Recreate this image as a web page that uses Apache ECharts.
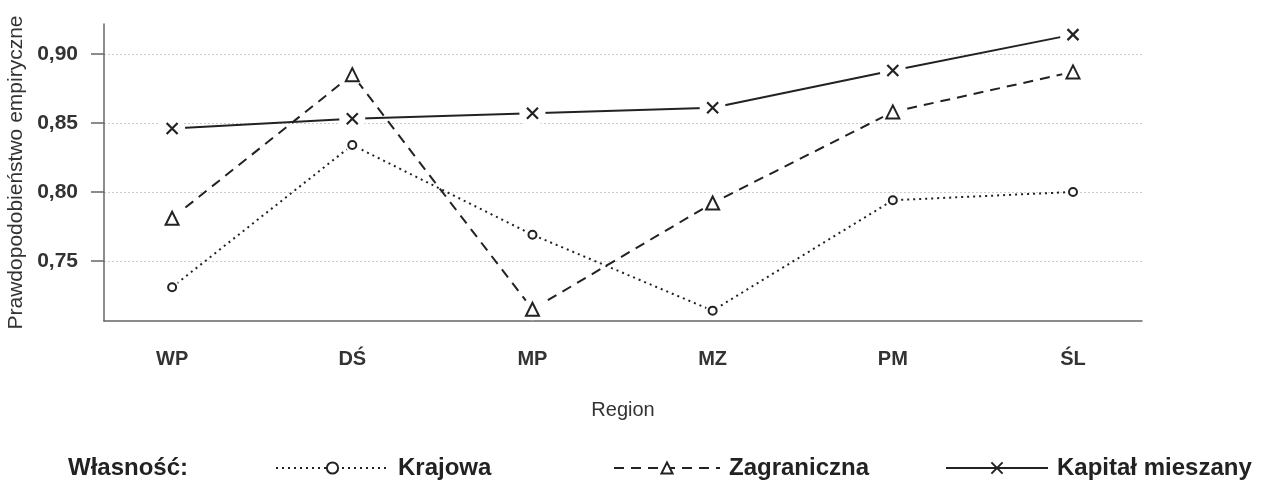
<!DOCTYPE html>
<html>
<head>
<meta charset="utf-8">
<script src="https://cdn.jsdelivr.net/npm/echarts@6/dist/echarts.min.js"></script>
<style>
html,body{margin:0;padding:0;background:#fff;}
#chart{width:1266px;height:492px;}
</style>
</head>
<body>
<div id="chart"></div>
<script>
const categories = ['WP', 'DŚ', 'MP', 'MZ', 'PM', 'ŚL'];
const krajowa = [0.731, 0.834, 0.769, 0.714, 0.794, 0.800];
const zagraniczna = [0.781, 0.885, 0.715, 0.792, 0.858, 0.887];
const mieszany = [0.846, 0.853, 0.857, 0.861, 0.888, 0.914];
const yTicks = [0.75, 0.80, 0.85, 0.90];
const seriesNames = ['Krajowa', 'Zagraniczna', 'Kapitał mieszany'];
const legendTitle = 'Własność:';
const xTitle = 'Region';
const yTitle = 'Prawdopodobieństwo empiryczne';

const INK = '#222';
const FONT = '"Liberation Sans", Arial, sans-serif';
const xSymbol = 'path://M0,0L10,10M10,0L0,10';

const pts = arr => arr.map((v, i) => [i, v]);

const defs = [
  {name: seriesNames[0], data: krajowa, symbol: 'emptyCircle', size: 8, mask: 14,
   line: {type: [2, 4], width: 2}, item: {color: INK, borderColor: INK, borderWidth: 1.8, opacity: 1}},
  {name: seriesNames[1], data: zagraniczna, symbol: 'emptyTriangle', size: 13, mask: 22,
   line: {type: [10, 7], width: 2}, item: {color: INK, borderColor: INK, borderWidth: 2, opacity: 1}},
  {name: seriesNames[2], data: mieszany, symbol: xSymbol, size: 11, mask: 26,
   line: {type: 'solid', width: 2}, item: {color: 'rgba(0,0,0,0)', borderColor: INK, borderWidth: 2.2, opacity: 1}}
];

const series = [];
defs.forEach(d => {
  series.push({
    name: d.name, type: 'line', data: pts(d.data), z: 2,
    symbol: d.symbol, symbolSize: d.size, showSymbol: false,
    lineStyle: Object.assign({color: INK}, d.line),
    itemStyle: d.item, animation: false
  });
});
defs.forEach(d => {
  series.push({
    name: d.name + '_mask', type: 'scatter', data: pts(d.data), z: 3, silent: true,
    symbol: 'circle', symbolSize: d.mask, itemStyle: {color: '#fff', opacity: 1}, animation: false
  });
});
defs.forEach(d => {
  series.push({
    name: d.name + '_mark', type: 'scatter', data: pts(d.data), z: 4, silent: true,
    symbol: d.symbol, symbolSize: d.size, itemStyle: d.item, animation: false
  });
});

const legendBase = {
  orient: 'horizontal', top: 451, itemHeight: 14, selectedMode: false,
  textStyle: {fontFamily: FONT, fontSize: 24, fontWeight: 'bold', color: INK, padding: [0, 0, 0, 4]}
};

const chart = echarts.init(document.getElementById('chart'), null, {renderer: 'canvas'});
chart.setOption({
  backgroundColor: '#fff',
  animation: false,
  grid: {left: 104, right: 124, top: 24, bottom: 171, containLabel: false, outerBoundsMode: 'none'},
  xAxis: {
    type: 'value', min: -0.378, max: 5.383,
    name: xTitle, nameLocation: 'middle', nameGap: 79,
    nameTextStyle: {fontFamily: FONT, fontSize: 20, color: '#333'},
    axisLine: {show: true, onZero: false, lineStyle: {color: '#666', width: 1.5}},
    axisTick: {show: false},
    splitLine: {show: false},
    axisLabel: {
      customValues: categories.map((c, i) => i),
      formatter: v => categories[Math.round(v)],
      fontFamily: FONT, fontSize: 20, fontWeight: 'bold', color: '#333', margin: 28
    }
  },
  yAxis: {
    type: 'value', min: 0.7065, max: 0.9217,
    name: yTitle, nameLocation: 'middle', nameGap: 75, nameRotate: 90,
    nameTextStyle: {fontFamily: FONT, fontSize: 21, color: '#333'},
    axisLine: {show: true, onZero: false, lineStyle: {color: '#666', width: 1.5}},
    axisTick: {show: true, customValues: yTicks, length: 13, lineStyle: {color: '#666', width: 1.5}},
    splitLine: {show: true, lineStyle: {color: '#ccc', width: 1, type: [2, 2]}},
    axisLabel: {
      customValues: yTicks,
      formatter: v => v.toFixed(2).replace('.', ','),
      fontFamily: FONT, fontSize: 21, fontWeight: 'bold', color: '#333', margin: 26
    }
  },
  legend: [
    Object.assign({}, legendBase, {data: [seriesNames[0]], left: 270, itemWidth: 113}),
    Object.assign({}, legendBase, {data: [seriesNames[1]], left: 608, itemWidth: 106}),
    Object.assign({}, legendBase, {data: [seriesNames[2]], left: 940, itemWidth: 102})
  ],
  graphic: [{
    type: 'text', left: 68, top: 456,
    style: {text: legendTitle, font: 'bold 24px ' + FONT, fill: INK}
  }],
  series: series
});
</script>
</body>
</html>
